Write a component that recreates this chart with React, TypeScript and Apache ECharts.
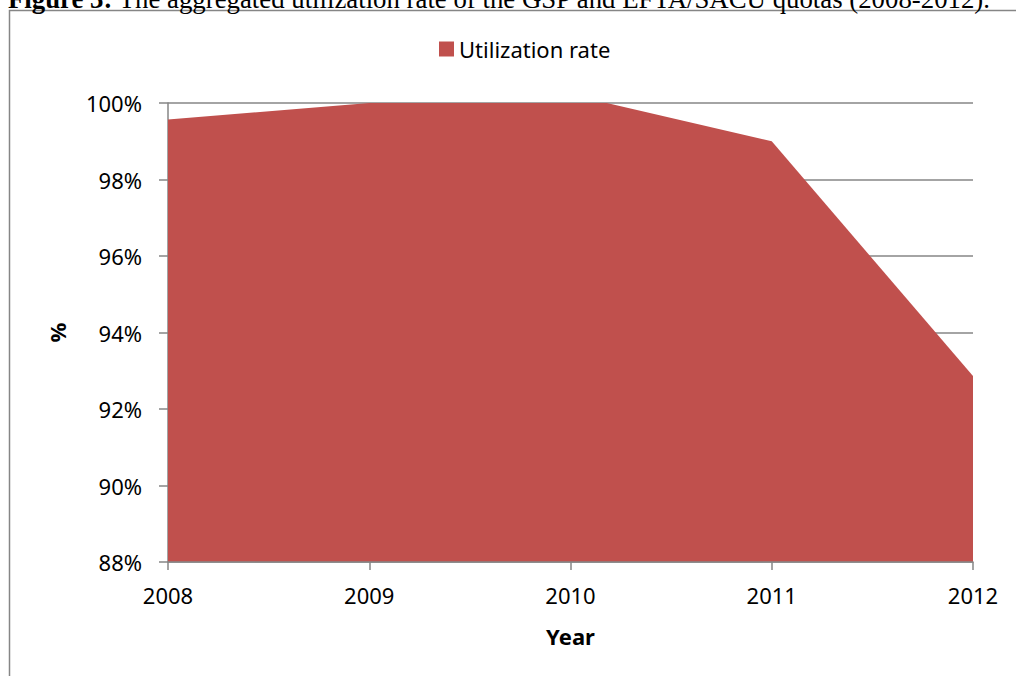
import React, { useEffect, useRef } from "react";
import * as echarts from "echarts";

const years = ["2008", "2009", "2010", "2011", "2012"];
const utilization = [99.57, 100.0, 100.22, 99.0, 92.86];
const seriesName = "Utilization rate";
const titleBold = "Figure 3:";
const titleRest = " The aggregated utilization rate of the GSP and EFTA/SACU quotas (2008-2012).";

export default function App() {
  const ref = useRef<HTMLDivElement>(null);
  useEffect(() => {
    if (!ref.current) return;
    const chart = echarts.init(ref.current, null, { renderer: "svg" });
    const font = "'Noto Sans', sans-serif";
    chart.setOption({
      animation: false,
      backgroundColor: "#ffffff",
      textStyle: { fontFamily: font },
      graphic: [
        {
          type: "rect",
          z: -1,
          shape: { x: 9.5, y: 10.5, width: 1030, height: 700 },
          style: { fill: "none", stroke: "#868686", lineWidth: 1.5 },
        },
        {
          type: "text",
          x: 8,
          y: 12,
          style: {
            text: `{b|${titleBold}}{n|${titleRest}}`,
            verticalAlign: "bottom",
            rich: {
              b: { fontFamily: "'Liberation Serif', serif", fontSize: 26.8, fontWeight: "bold", fill: "#000" },
              n: { fontFamily: "'Liberation Serif', serif", fontSize: 26.8, fill: "#000" },
            },
          },
        },
      ],
      legend: {
        left: 434,
        top: 33,
        icon: "rect",
        itemWidth: 15,
        itemHeight: 15,
        itemGap: 10,
        textStyle: { fontSize: 22, color: "#000", fontFamily: font },
        data: [seriesName],
      },
      grid: { left: 168, right: 43, top: 103, bottom: 114 },
      xAxis: {
        type: "category",
        data: years,
        boundaryGap: false,
        name: "Year",
        nameLocation: "middle",
        nameGap: 63,
        nameTextStyle: { fontSize: 22, fontWeight: "bold", color: "#000", fontFamily: font },
        axisLine: { show: true, lineStyle: { color: "#868686", width: 1.5 } },
        axisTick: { show: true, length: 8, lineStyle: { color: "#868686", width: 1.5 } },
        axisLabel: { fontSize: 22, color: "#000", margin: 22, fontFamily: font },
        splitLine: { show: false },
        z: 3,
      },
      yAxis: {
        type: "value",
        min: 88,
        max: 100,
        interval: 2,
        name: "%",
        nameLocation: "middle",
        nameGap: 100,
        nameTextStyle: { fontSize: 22, fontWeight: "bold", color: "#000", fontFamily: font },
        axisLine: { show: true, lineStyle: { color: "#868686", width: 1.5 } },
        axisTick: { show: true, length: 9, lineStyle: { color: "#868686", width: 1.5 } },
        axisLabel: { fontSize: 22, color: "#000", margin: 26, fontFamily: font, formatter: (v: number) => `${v}%` },
        splitLine: { show: true, lineStyle: { color: "#868686", width: 1.5 } },
        z: 0,
      },
      series: [
        {
          name: seriesName,
          type: "line",
          data: utilization,
          symbol: "none",
          clip: true,
          color: "#C0504D",
          lineStyle: { width: 0, color: "#C0504D" },
          areaStyle: { color: "#C0504D", opacity: 1 },
          z: 2,
        },
      ],
    });
    return () => chart.dispose();
  }, []);
  return (
    <div
      ref={ref}
      style={{ position: "absolute", left: 0, top: 0, width: 1016, height: 676 }}
    />
  );
}
